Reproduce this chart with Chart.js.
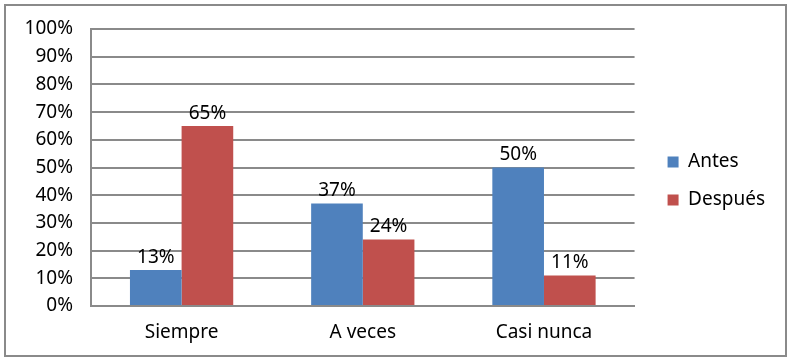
<!DOCTYPE html>
<html>
<head>
<meta charset="utf-8">
<script src="https://cdn.jsdelivr.net/npm/chart.js@4/dist/chart.umd.min.js"></script>
<style>
  html, body { margin: 0; padding: 0; background: #fff; }
  .frame {
    position: absolute; left: 4px; top: 4px;
    width: 779px; height: 349px;
    border: 2px solid #8a8a8a;
  }
  canvas { display: block; }
</style>
</head>
<body>
<div class="frame"><canvas id="chart" width="779" height="349"></canvas></div>
<script>
const categories = ['Siempre', 'A veces', 'Casi nunca'];
const antes = [13, 37, 50];
const despues = [65, 24, 11];
const yTicks = [0, 10, 20, 30, 40, 50, 60, 70, 80, 90, 100];

const FONT = "'Noto Sans', sans-serif";
const SIZE = 19;
const TEXT = '#000';

// Draw the value above every bar
const barLabels = {
  id: 'barLabels',
  afterDatasetsDraw(chart) {
    const ctx = chart.ctx;
    ctx.save();
    ctx.font = SIZE + 'px ' + FONT;
    ctx.fillStyle = TEXT;
    ctx.textAlign = 'center';
    ctx.textBaseline = 'bottom';
    chart.data.datasets.forEach((ds, i) => {
      chart.getDatasetMeta(i).data.forEach((bar, j) => {
        ctx.fillText(ds.data[j] + '%', bar.x, bar.y - 3);
      });
    });
    ctx.restore();
  }
};

// Nudge the legend block: a bit up and away from the plot
const legendNudge = {
  id: 'legendNudge',
  beforeDraw(chart) {
    const lg = chart.legend;
    lg.bottom -= 22;
    lg.left += 14;
    lg.right += 14;
  }
};

const ctx = document.getElementById('chart').getContext('2d');
new Chart(ctx, {
  type: 'bar',
  data: {
    labels: categories,
    datasets: [
      { label: 'Antes', data: antes, backgroundColor: '#4F81BD' },
      { label: 'Después', data: despues, backgroundColor: '#C0504D' }
    ]
  },
  options: {
    responsive: false,
    animation: false,
    layout: { padding: { top: 23, left: 0, right: 24, bottom: 0 } },
    datasets: { bar: { categoryPercentage: 0.57, barPercentage: 1 } },
    plugins: {
      legend: {
        position: 'right',
        labels: {
          font: { family: FONT, size: SIZE },
          color: TEXT,
          boxWidth: 11,
          boxHeight: 11,
          padding: 19
        }
      },
      tooltip: { enabled: false }
    },
    scales: {
      x: {
        grid: { display: false },
        border: { color: '#8a8a8a', width: 2 },
        ticks: { font: { family: FONT, size: SIZE }, color: TEXT, padding: 7 },
        afterFit(axis) { axis.height = 49; }
      },
      y: {
        min: 0,
        max: 100,
        afterBuildTicks(axis) { axis.ticks = yTicks.map(v => ({ value: v })); },
        grid: { color: '#8a8a8a', lineWidth: 2, drawTicks: false },
        border: { color: '#8a8a8a', width: 2 },
        ticks: {
          font: { family: FONT, size: SIZE },
          color: TEXT,
          padding: 18,
          callback: v => v + '%'
        },
        afterFit(axis) {
          axis.width = 85;
          axis.paddingTop = 0;
          axis.paddingBottom = 0;
        }
      }
    }
  },
  plugins: [barLabels, legendNudge]
});
</script>
</body>
</html>
